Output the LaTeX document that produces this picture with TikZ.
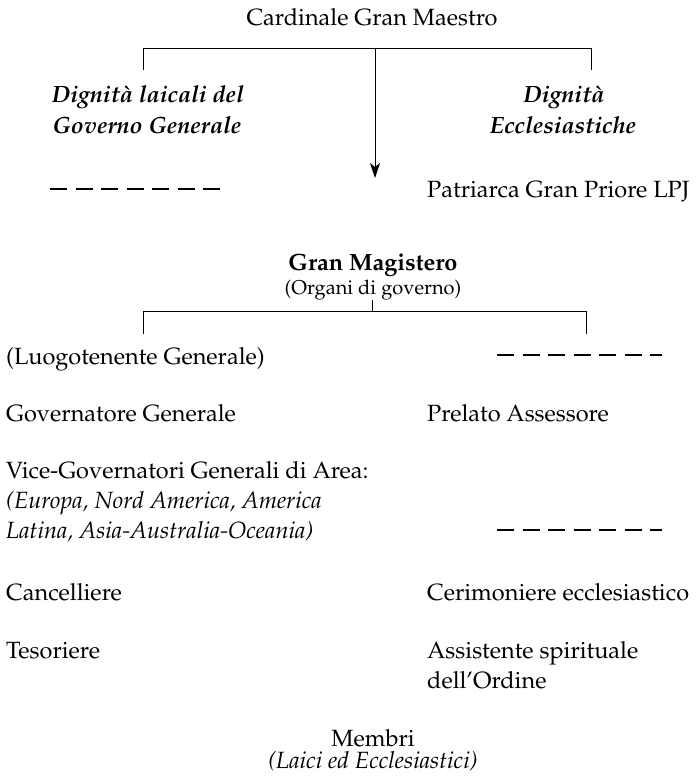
\documentclass[tikz,border=0pt]{standalone}
\usepackage[T1]{fontenc}
\usepackage{mathpazo}
\usetikzlibrary{arrows.meta}
\begin{document}
\begin{tikzpicture}[x=1pt,y=-1pt,
  txt/.style={font=\fontsize{23.5}{29}\selectfont, inner sep=0pt},
  small/.style={font=\fontsize{20}{24}\selectfont, inner sep=0pt},
  bi/.style={font=\fontsize{23.5}{29}\selectfont\bfseries\itshape, inner sep=0pt},
  it/.style={font=\fontsize{23.5}{29}\selectfont\itshape, inner sep=0pt},
  conn/.style={line width=0.9pt},
  vacant/.style={line width=1.3pt, dash pattern=on 17pt off 8.5pt}]
\useasboundingbox (0,0) rectangle (696,778);
% top
\node[txt, anchor=base] (cgm) at (372,26) {Cardinale Gran Maestro};
\coordinate (tl) at (143,70);
\coordinate (tlc) at (143,48);
\coordinate (trc) at (591,48);
\coordinate (tr) at (591,70);
\coordinate (ts) at (375,48);
\coordinate (tip) at (375,178);
\draw[conn] (tl) -- (tlc) -- (trc) -- (tr);
\draw[conn, -{Stealth[length=15pt,width=10pt,inset=4pt]}] (ts) -- (tip);
\node[bi, anchor=base] (lai1) at (148,103) {Dignit\`a laicali del};
\node[bi, anchor=base] (lai2) at (147,134) {Governo Generale};
\node[bi, anchor=base] (ecc1) at (564,103) {Dignit\`a};
\node[bi, anchor=base] (ecc2) at (563,134) {Ecclesiastiche};
\coordinate (d1a) at (50,189);
\coordinate (d1b) at (223,189);
\draw[vacant] (d1a) -- (d1b);
\node[txt, anchor=base west] (pat) at (427,197) {Patriarca Gran Priore LPJ};
% Gran Magistero
\node[txt, anchor=base, font=\fontsize{23.5}{29}\selectfont\bfseries] (gm) at (373,270) {Gran Magistero};
\node[small, anchor=base] (org) at (373,294) {(Organi di governo)};
\coordinate (ms) at (372,300);
\coordinate (mc) at (372,311);
\coordinate (ml) at (143,334);
\coordinate (mlc) at (143,311);
\coordinate (mrc) at (586,311);
\coordinate (mr) at (586,334);
\draw[conn] (ms) -- (mc);
\draw[conn] (ml) -- (mlc) -- (mrc) -- (mr);
% left column
\node[txt, anchor=base west] (luo) at (6,364) {(Luogotenente Generale)};
\node[txt, anchor=base west] (gov) at (6,421) {Governatore Generale};
\node[txt, anchor=base west] (vic1) at (6,478) {Vice-Governatori Generali di Area:};
\node[it, anchor=base west] (vic2) at (6,508) {(Europa, Nord America, America};
\node[it, anchor=base west] (vic3) at (6,538) {Latina, Asia-Australia-Oceania)};
\node[txt, anchor=base west] (can) at (6,600) {Cancelliere};
\node[txt, anchor=base west] (tes) at (6,658) {Tesoriere};
% right column
\coordinate (d2a) at (497,355);
\coordinate (d2b) at (662,355);
\draw[vacant] (d2a) -- (d2b);
\node[txt, anchor=base west] (pre) at (427,421) {Prelato Assessore};
\coordinate (d3a) at (497,530);
\coordinate (d3b) at (662,530);
\draw[vacant] (d3a) -- (d3b);
\node[txt, anchor=base west] (cer) at (427,600) {Cerimoniere ecclesiastico};
\node[txt, anchor=base west] (ass1) at (427,658) {Assistente spirituale};
\node[txt, anchor=base west] (ass2) at (427,688) {dell'Ordine};
% bottom
\node[txt, anchor=base] (mem) at (373,746) {Membri};
\node[it, anchor=base] (lai) at (373,768) {(Laici ed Ecclesiastici)};
\end{tikzpicture}
\end{document}
